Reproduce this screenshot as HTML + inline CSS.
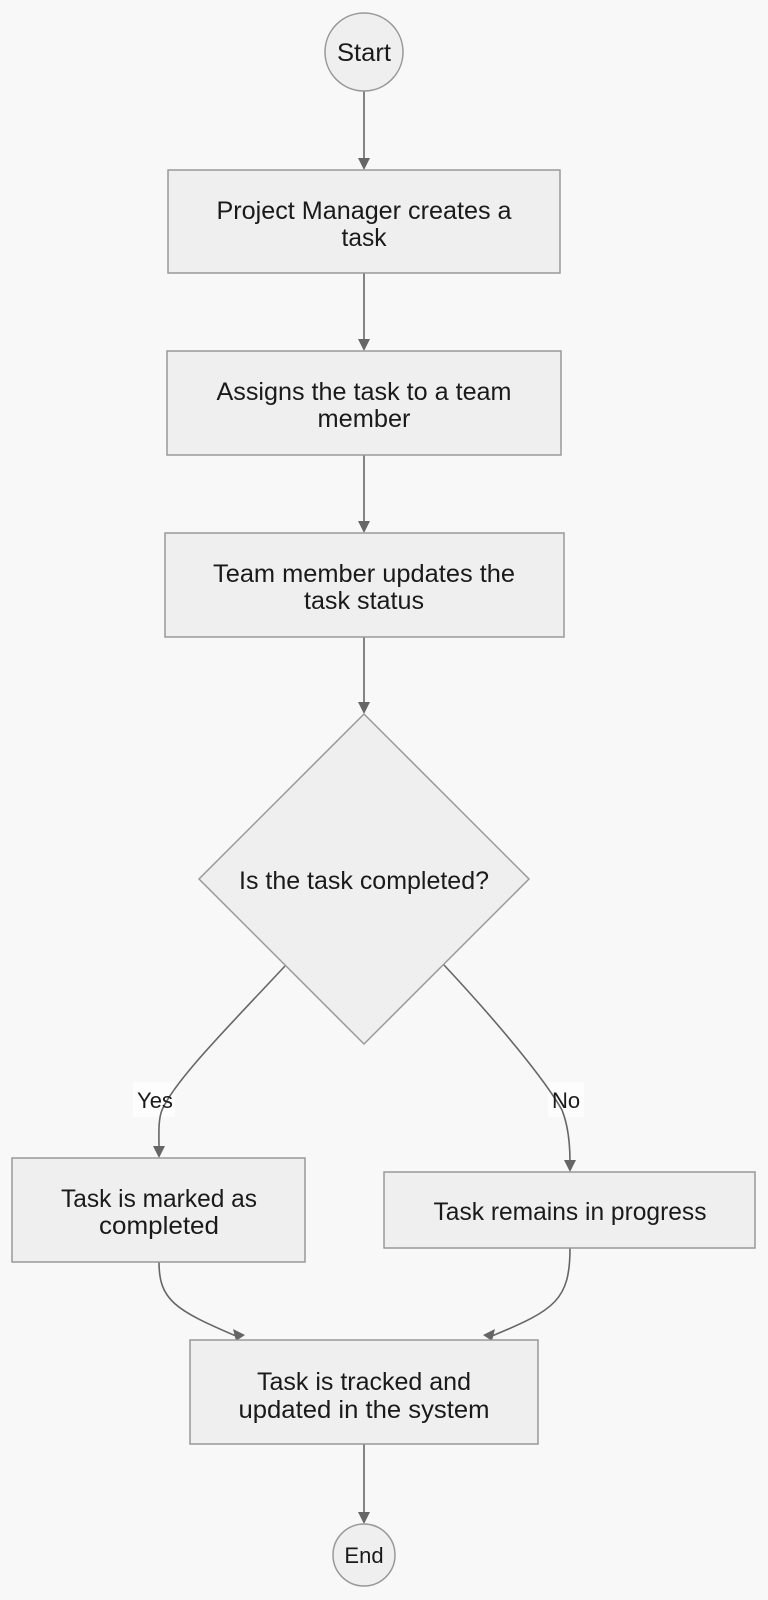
<!DOCTYPE html>
<html><head><meta charset="utf-8"><style>
html,body{margin:0;padding:0;background:#f8f8f8;}
svg{display:block;}
text{font-family:"Liberation Sans",sans-serif;font-size:25px;fill:#1a1a1a;text-anchor:middle;}
.s{font-size:22px;}
.n{fill:#efefef;stroke:#999;stroke-width:1.5;}
.e{fill:none;stroke:#666;stroke-width:1.6;}
.a{fill:#666;}
</style></head><body>
<svg width="768" height="1600" viewBox="0 0 768 1600" xmlns="http://www.w3.org/2000/svg">
<rect width="768" height="1600" fill="#f8f8f8"/>
<path class="e" d="M364 91 L364 160"/><polygon class="a" points="358,158 370,158 364,170"/>
<path class="e" d="M364 273 L364 341"/><polygon class="a" points="358,339 370,339 364,351"/>
<path class="e" d="M364 455 L364 523"/><polygon class="a" points="358,521 370,521 364,533"/>
<path class="e" d="M364 637 L364 704"/><polygon class="a" points="358,702 370,702 364,714"/>
<rect x="133" y="1082" width="42" height="35" fill="#fff" opacity="0.7"/>
<rect x="548" y="1082" width="36" height="35" fill="#fff" opacity="0.7"/>
<path class="e" d="M285 966 C230 1025,175 1080,162 1110 C158 1120,159 1135,159 1148"/><polygon class="a" points="153,1146 165,1146 159,1158"/>
<path class="e" d="M444 965 C500 1025,545 1080,562 1110 C568 1125,570 1145,570 1162"/><polygon class="a" points="564,1160 576,1160 570,1172"/>
<path class="e" d="M159 1262 C159 1300,175 1310,236 1336"/><polygon class="a" points="233,1329 245,1335 236,1341"/>
<path class="e" d="M570 1248 C570 1300,555 1310,492 1336"/><polygon class="a" points="495,1329 483,1335 492,1341"/>
<path class="e" d="M364 1444 L364 1514"/><polygon class="a" points="358,1512 370,1512 364,1524"/>
<circle class="n" cx="364" cy="52" r="39"/>
<text x="364" y="61" textLength="54" lengthAdjust="spacingAndGlyphs">Start</text>
<rect class="n" x="168" y="170" width="392" height="103"/>
<text x="364" y="219" textLength="295" lengthAdjust="spacingAndGlyphs">Project Manager creates a</text>
<text x="364" y="246" textLength="45" lengthAdjust="spacingAndGlyphs">task</text>
<rect class="n" x="167" y="351" width="394" height="104"/>
<text x="364" y="400" textLength="295" lengthAdjust="spacingAndGlyphs">Assigns the task to a team</text>
<text x="364" y="427" textLength="93" lengthAdjust="spacingAndGlyphs">member</text>
<rect class="n" x="165" y="533" width="399" height="104"/>
<text x="364" y="582" textLength="302" lengthAdjust="spacingAndGlyphs">Team member updates the</text>
<text x="364" y="609" textLength="120" lengthAdjust="spacingAndGlyphs">task status</text>
<polygon class="n" points="364,714 529,879 364,1044 199,879"/>
<text x="364" y="889" textLength="250" lengthAdjust="spacingAndGlyphs">Is the task completed?</text>
<text class="s" x="155" y="1108">Yes</text>
<text class="s" x="566" y="1108">No</text>
<rect class="n" x="12" y="1158" width="293" height="104"/>
<text x="159" y="1207" textLength="196" lengthAdjust="spacingAndGlyphs">Task is marked as</text>
<text x="159" y="1234" textLength="120" lengthAdjust="spacingAndGlyphs">completed</text>
<rect class="n" x="384" y="1172" width="371" height="76"/>
<text x="570" y="1220" textLength="273" lengthAdjust="spacingAndGlyphs">Task remains in progress</text>
<rect class="n" x="190" y="1340" width="348" height="104"/>
<text x="364" y="1390" textLength="214" lengthAdjust="spacingAndGlyphs">Task is tracked and</text>
<text x="364" y="1418" textLength="251" lengthAdjust="spacingAndGlyphs">updated in the system</text>
<circle class="n" cx="364" cy="1555" r="31"/>
<text class="s" x="364" y="1563">End</text>
</svg>
</body></html>
